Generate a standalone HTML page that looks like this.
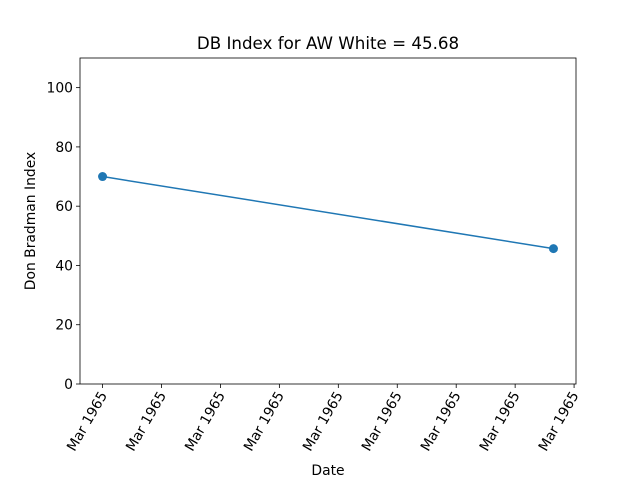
<!DOCTYPE html>
<html><head><meta charset="utf-8"><style>
body{margin:0;background:#fff;}
svg{display:block;font-family:"DejaVu Sans","Liberation Sans",sans-serif;}
</style></head><body>
<svg id="chart" width="640" height="480">
<text x="328" y="49" text-anchor="middle" font-size="16.7">DB Index for AW White = 45.68</text>
<text x="328" y="475" text-anchor="middle" font-size="13.9">Date</text>
<text transform="translate(35,221) rotate(-90)" text-anchor="middle" font-size="13.9">Don Bradman Index</text>
<g id="plot"></g>
</svg>
<script>
const xValues = [0, 7.65];
const yValues = [70, 45.68];
const xTickValues = [0,1,2,3,4,5,6,7,8];
const xTickLabels = ["Mar 1965","Mar 1965","Mar 1965","Mar 1965","Mar 1965","Mar 1965","Mar 1965","Mar 1965","Mar 1965"];
const yTickValues = [0,20,40,60,80,100];

const L=80,R=576,T=58,B=384;
const xMin=-0.3825,xMax=8.0325,yMin=0,yMax=110;
const sx=v=>L+(v-xMin)/(xMax-xMin)*(R-L);
const sy=v=>B-(v-yMin)/(yMax-yMin)*(B-T);
const NS="http://www.w3.org/2000/svg";
const g=document.getElementById('plot');
function mk(t,a){const e=document.createElementNS(NS,t);for(const k in a)e.setAttribute(k,a[k]);g.appendChild(e);return e;}
xTickValues.forEach((v,i)=>{
  const x=sx(v);
  const t=mk('line',{x1:x,x2:x,y1:B,y2:B+4,stroke:'#000','stroke-width':0.8});
  
  
  const tx=mk('text',{'font-size':13.9,'text-anchor':'end',transform:`translate(${x+5},${B+11}) rotate(-60)`});
  tx.textContent=xTickLabels[i];
  
  
});
yTickValues.forEach(v=>{
  const y=sy(v);
  const t=mk('line',{x1:L-4,x2:L,y1:y,y2:y,stroke:'#000','stroke-width':0.8});
  
  
  const tx=mk('text',{x:L-7,y:y+5,'font-size':13.9,'text-anchor':'end'});
  tx.textContent=v;
  
  
});
const pts=xValues.map((v,i)=>sx(v)+','+sy(yValues[i])).join(' ');
const line=mk('polyline',{points:pts,fill:'none',stroke:'#1f77b4','stroke-width':1.5});


xValues.forEach((v,i)=>{
  const c=mk('circle',{cx:sx(v),cy:sy(yValues[i]),r:4.5,fill:'#1f77b4'});
  
  
});
const f=mk('rect',{x:L,y:T,width:R-L,height:B-T,fill:'none',stroke:'#000','stroke-width':0.8});


</script>
</body></html>
